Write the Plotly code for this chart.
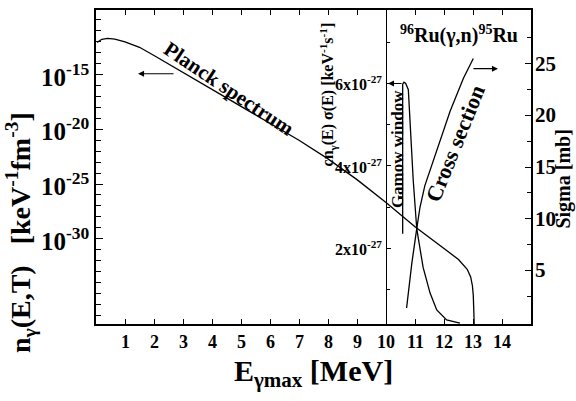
import plotly.graph_objects as go

# Planck photon spectrum n_gamma(E,T): energy [MeV] and log10 of density [keV^-1 fm^-3]
planck_e = [0.04, 0.2, 0.4, 0.65, 1.0, 1.5, 2.0, 3.0, 4.0, 5.0, 6.0, 7.0, 8.0, 9.0,
            10.0, 11.0, 12.0, 12.5, 12.8, 12.92, 12.98, 13.01, 13.03, 13.04]
planck_log10 = [-12.05, -11.77, -11.68, -11.75, -12.0, -12.5, -13.25, -14.8, -16.35,
                -17.85, -19.4, -21.0, -22.7, -24.6, -26.7, -28.9, -30.9, -31.9,
                -32.8, -33.5, -34.3, -35.2, -36.8, -37.8]

# Gamow window c*n_gamma(E)*sigma(E), in units of 1e-27 keV^-1 s^-1
gamow_e = [10.575, 10.575, 10.62, 10.68, 10.77, 10.85, 10.94, 11.06, 11.28, 11.52,
           11.75, 12.09, 12.55]
gamow_val = [2.36, 5.98, 6.03, 6.0, 5.85, 4.8, 3.64, 2.48, 1.54, 0.92, 0.51, 0.27, 0.19]

# 96Ru(gamma,n)95Ru cross section [mb]
xs_e = [10.71, 10.89, 11.06, 11.17, 11.34, 11.75, 12.21, 12.67, 13.01]
xs_mb = [1.35, 5.67, 9.04, 11.06, 13.2, 16.5, 20.4, 23.6, 25.5]

x_ticks = list(range(1, 15))
left_major = [-15, -20, -25, -30]
left_minor = [d for d in range(-10, -38, -1) if d not in left_major]
sigma_ticks = [5, 10, 15, 20, 25]
sigma_minor = [2.5, 7.5, 12.5, 17.5, 22.5, 27.5]
inset_ticks = [2, 4, 6]
inset_minor = [1, 3, 5, 7]

FONT = "Liberation Serif"
planck_vals = [10 ** v for v in planck_log10]


def bold(size):
    return dict(size=size, family=FONT, color="black", weight=700)


fig = go.Figure()
line = dict(color="black", width=1.3)
fig.add_trace(go.Scatter(x=planck_e, y=planck_vals, mode="lines", line=line,
                         yaxis="y", showlegend=False))
fig.add_trace(go.Scatter(x=gamow_e, y=gamow_val, mode="lines", line=line,
                         yaxis="y3", showlegend=False))
fig.add_trace(go.Scatter(x=xs_e, y=xs_mb, mode="lines", line=line,
                         yaxis="y2", showlegend=False))

tick_style = dict(ticks="inside", tickwidth=1.2, tickcolor="black",
                  showgrid=False, zeroline=False, showticklabels=False)

fig.update_layout(
    width=576, height=401,
    margin=dict(l=96, r=45, t=8, b=77),
    paper_bgcolor="white", plot_bgcolor="white",
    font=dict(family=FONT, color="black"),
    xaxis=dict(
        range=[0, 15], tickmode="array", tickvals=x_ticks, ticklen=5,
        showline=True, linewidth=2, linecolor="black", mirror="ticks", **tick_style,
    ),
    yaxis=dict(
        type="log", range=[-37.8, -9.09], tickmode="array",
        tickvals=[10.0 ** d for d in left_major], ticklen=7,
        minor=dict(tickvals=[10.0 ** d for d in left_minor], ticks="inside",
                   ticklen=5, tickwidth=1.2, tickcolor="black"),
        showline=True, linewidth=2, linecolor="black", mirror=True, **tick_style,
    ),
    yaxis2=dict(
        overlaying="y", side="right", anchor="x",
        range=[-0.2, 30.2], tickmode="array", tickvals=sigma_ticks, ticklen=6,
        minor=dict(tickvals=sigma_minor, ticks="inside", ticklen=4, tickcolor="black"),
        showline=True, linewidth=2, linecolor="black", **tick_style,
    ),
    yaxis3=dict(
        overlaying="y", side="left", anchor="free", position=10 / 15,
        range=[0.17, 7.78], tickmode="array", tickvals=inset_ticks, ticklen=4,
        minor=dict(tickvals=inset_minor, ticks="inside", ticklen=3, tickcolor="black"),
        showline=True, linewidth=1.2, linecolor="black", **tick_style,
    ),
)


def text(s, x, y, size, xref="x", yref="paper", angle=0, xanchor="center",
         yanchor="middle"):
    fig.add_annotation(text=s, x=x, y=y, xref=xref, yref=yref, showarrow=False,
                       textangle=angle, xanchor=xanchor, yanchor=yanchor,
                       font=bold(size), borderpad=0)


def arrow(x, y, ax):
    fig.add_annotation(text="", x=x, y=y, xref="x", yref="paper", ax=ax, ay=0,
                       axref="pixel", ayref="pixel", showarrow=True, arrowhead=2,
                       arrowsize=1, arrowwidth=1.2, arrowcolor="black", standoff=0)


# tick labels
for v in x_ticks:
    text(str(v), v, -0.022, 18, yanchor="top")
for d in left_major:
    text(f"10<sup>{d}</sup>", -0.012, d, 25, xref="paper", yref="y", xanchor="right")
for v in sigma_ticks:
    text(str(v), 1.008, v, 21, xref="paper", yref="y2", xanchor="left")
for v in inset_ticks:
    text(f"{v}x10<sup>-27</sup>", 9.9, v, 16, yref="y3", xanchor="right")

# titles and curve labels
text("Planck spectrum", 4.59, 0.747, 21, angle=33.8)
text("Cross section", 12.38, 0.576, 22, angle=-68)
text("Gamow window", 10.38, 0.557, 17, angle=-90)
text("cn<sub>γ</sub>(E) σ(E) [keV<sup>-1</sup>s<sup>-1</sup>]", 8.0, 0.731, 16, angle=-90)
text("<sup>96</sup>Ru(γ,n)<sup>95</sup>Ru", 12.5, 0.921, 20)
text("n<sub>γ</sub>(E,T)&nbsp;&nbsp;&nbsp;[keV<sup>-1</sup>fm<sup>-3</sup>]",
     -0.172, 0.29, 28, xref="paper", angle=-90)
text("E<sub>γmax</sub> [MeV]", 7.5, -0.155, 30)
text("Sigma [mb]", 1.075, 0.462, 20, xref="paper", angle=-90)

arrow(1.45, 0.797, 37)
arrow(13.86, 0.813, -26)
arrow(10.07, 0.766, 15)

fig.write_html("out.html")
